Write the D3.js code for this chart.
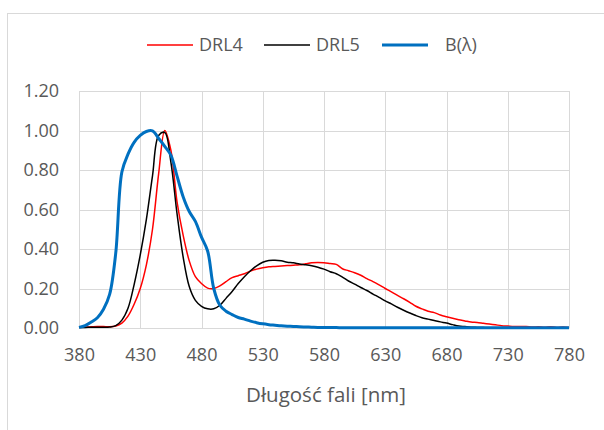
<!DOCTYPE html>
<html>
  <head>
    <style>
      html, body {
        padding: 0;
        margin: 0;
        overflow: hidden;
        background: #ffffff;
      }
      svg text {
        font-family: "Open Sans", sans-serif;
        fill: #595959;
      }
      .grid line {
        stroke: #d9d9d9;
        stroke-width: 1;
      }
    </style>
  </head>
  <body>
    <div id="chart"></div>
    <script src="https://cdnjs.cloudflare.com/ajax/libs/d3/7.8.5/d3.min.js"></script>
    <script>
      // wavelengths every 5 nm, 380..780
      let wavelengths = d3.range(380, 781, 5)

      let drl4 = [
        0.005, 0.005, 0.006, 0.007, 0.007, 0.006, 0.010, 0.025, 0.060, 0.120,
        0.200, 0.320, 0.500, 0.780, 1.000, 0.900, 0.640, 0.470, 0.340, 0.260,
        0.225, 0.202, 0.200, 0.213, 0.235, 0.255, 0.265, 0.275, 0.288, 0.298,
        0.305, 0.310, 0.312, 0.314, 0.316, 0.318, 0.320, 0.325, 0.330, 0.332,
        0.330, 0.326, 0.322, 0.300, 0.290, 0.280, 0.267, 0.250, 0.235, 0.218,
        0.200, 0.183, 0.165, 0.148, 0.130, 0.110, 0.097, 0.085, 0.078, 0.066,
        0.057, 0.049, 0.042, 0.036, 0.030, 0.028, 0.024, 0.020, 0.016, 0.012,
        0.010, 0.008, 0.007, 0.008, 0.005, 0.006, 0.004, 0.006, 0.003, 0.005,
        0.003
      ]

      let drl5 = [
        0.003, 0.003, 0.004, 0.004, 0.004, 0.005, 0.012, 0.040, 0.100, 0.220,
        0.370, 0.550, 0.770, 0.975, 0.990, 0.840, 0.580, 0.360, 0.210, 0.140,
        0.110, 0.097, 0.097, 0.115, 0.150, 0.185, 0.225, 0.260, 0.290, 0.315,
        0.333, 0.342, 0.343, 0.340, 0.333, 0.330, 0.324, 0.320, 0.315, 0.308,
        0.298, 0.285, 0.275, 0.258, 0.238, 0.222, 0.205, 0.190, 0.172, 0.155,
        0.137, 0.122, 0.105, 0.090, 0.076, 0.063, 0.052, 0.045, 0.038, 0.031,
        0.025, 0.017, 0.010, 0.007, 0.004, 0.003, 0.002, 0.001, 0.001, 0.001,
        0.001, 0.001, 0.001, 0.001, 0.001, 0.001, 0.001, 0.001, 0.001, 0.001,
        0.001
      ]

      let blueHazard = [
        0.003, 0.012, 0.030, 0.052, 0.095, 0.170, 0.380, 0.790, 0.880, 0.940,
        0.975, 0.995, 0.998, 0.960, 0.920, 0.875, 0.770, 0.665, 0.590, 0.540,
        0.460, 0.390, 0.200, 0.115, 0.085, 0.068, 0.053, 0.045, 0.035, 0.027,
        0.021, 0.017, 0.014, 0.011, 0.009, 0.008, 0.006, 0.005, 0.004, 0.003,
        0.003, 0.002, 0.002, 0.001, 0.001, 0.001, 0.001, 0.001, 0.001, 0.001,
        0.001, 0.001, 0.001, 0.001, 0.001, 0.001, 0.001, 0.001, 0.001, 0.001,
        0.001, 0.001, 0.001, 0.001, 0.001, 0.001, 0.001, 0.001, 0.001, 0.001,
        0.001, 0.001, 0.001, 0.001, 0.001, 0.001, 0.001, 0.001, 0.001, 0.001,
        0.001
      ]

      let xTicks = [380, 430, 480, 530, 580, 630, 680, 730, 780]
      let yTicks = [0, 0.2, 0.4, 0.6, 0.8, 1.0, 1.2]

      let seriesNames = ['DRL4', 'DRL5', 'B(λ)']
      let seriesValues = [drl4, drl5, blueHazard]

      let width = 604
      let height = 430
      let margin = { top: 91, left: 79, right: 35, bottom: 102 }

      let red = '#ff0000'
      let black = '#000000'
      let blue = '#0070c0'
      let colors = [red, black, blue]
      let strokes = [1.5, 1.5, 3]

      let svg = d3.select('#chart')
        .append('svg')
        .attr('width', width)
        .attr('height', height)

      // chart area border
      svg.append('rect')
        .attr('x', 7.5)
        .attr('y', 13.5)
        .attr('width', width)
        .attr('height', height)
        .attr('fill', 'none')
        .attr('stroke', '#d9d9d9')

      let x = d3.scaleLinear()
        .domain([380, 780])
        .range([margin.left, width - margin.right])

      let y = d3.scaleLinear()
        .domain([0, 1.2])
        .range([height - margin.bottom, margin.top])

      let grid = svg.append('g').attr('class', 'grid')

      grid.selectAll('.hline')
        .data(yTicks)
        .enter().append('line')
        .attr('x1', x(380))
        .attr('x2', x(780))
        .attr('y1', d => Math.round(y(d)) + 0.5)
        .attr('y2', d => Math.round(y(d)) + 0.5)

      grid.selectAll('.vline')
        .data(xTicks)
        .enter().append('line')
        .attr('x1', d => Math.round(x(d)) + 0.5)
        .attr('x2', d => Math.round(x(d)) + 0.5)
        .attr('y1', y(1.2))
        .attr('y2', y(0))

      // axes: only the labels are shown
      let xAxis = svg.append('g')
        .attr('transform', 'translate(0,' + y(0) + ')')
        .call(d3.axisBottom(x).tickValues(xTicks).tickSize(0).tickPadding(20))
      xAxis.select('.domain').attr('stroke', '#d9d9d9')

      let yAxis = svg.append('g')
        .attr('transform', 'translate(' + (margin.left - 20) + ',0)')
        .call(d3.axisLeft(y).tickValues(yTicks).tickFormat(d3.format('.2f')).tickSize(0).tickPadding(0))
      yAxis.select('.domain').remove()

      svg.selectAll('.tick text')
        .attr('fill', '#595959')
        .style('font-size', '18px')
        .style('font-family', '"Open Sans", sans-serif')

      svg.append('text')
        .attr('x', (x(380) + x(780)) / 2 + 2)
        .attr('y', 402)
        .attr('text-anchor', 'middle')
        .style('font-size', '20.5px')
        .text('Długość fali [nm]')

      let line = d3.line()
        .x((d, i) => x(wavelengths[i]))
        .y(d => y(d))
        .curve(d3.curveCatmullRom.alpha(0.5))

      svg.selectAll('.series')
        .data(seriesValues)
        .enter().append('path')
        .attr('class', 'series')
        .attr('fill', 'none')
        .attr('stroke', (d, i) => colors[i])
        .attr('stroke-width', (d, i) => strokes[i])
        .attr('stroke-linejoin', 'round')
        .attr('d', line)

      // legend
      let legendX = [147, 264, 382]
      let legend = svg.selectAll('.legend')
        .data(seriesNames)
        .enter().append('g')
        .attr('class', 'legend')
        .attr('transform', (d, i) => 'translate(' + legendX[i] + ',45)')

      legend.append('line')
        .attr('x1', 0)
        .attr('x2', 46)
        .attr('stroke', (d, i) => colors[i])
        .attr('stroke-width', (d, i) => strokes[i])

      legend.append('text')
        .attr('x', (d, i) => i == 2 ? 63 : 52)
        .attr('dy', '0.35em')
        .style('font-size', '18px')
        .text(d => d)
    </script>
  </body>
</html>
